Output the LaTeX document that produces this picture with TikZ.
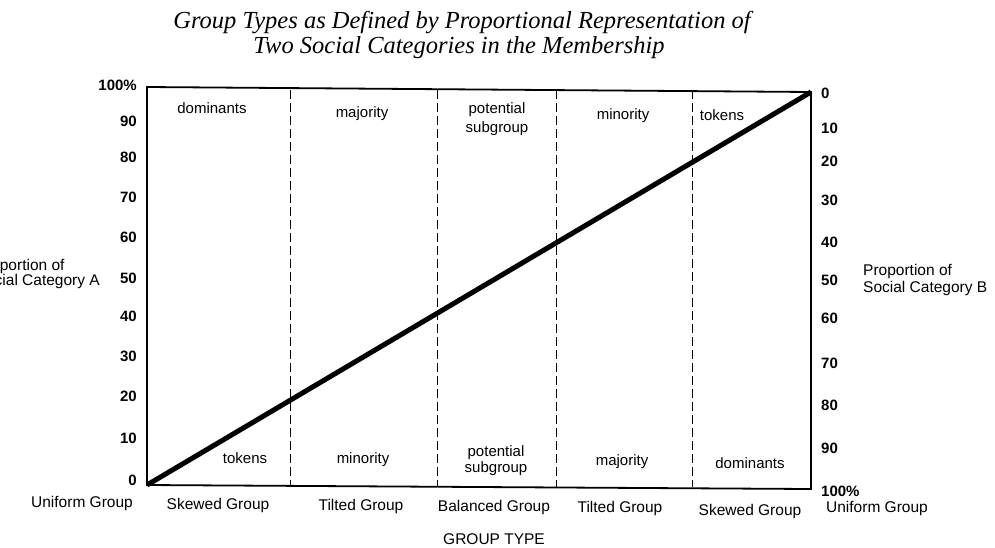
\documentclass[tikz,border=0pt]{standalone}
\usepackage{fontspec}
\setmainfont{Liberation Serif}
\setsansfont{Liberation Sans}
\begin{document}
\begin{tikzpicture}[x=1pt,y=-1pt,
  ttl/.style={font=\itshape\fontsize{24.5}{25}\selectfont, inner sep=0pt, anchor=base},
  lab/.style={font=\sffamily\fontsize{15.5}{17}\selectfont, inner sep=0pt, anchor=base},
  num/.style={font=\sffamily\bfseries\fontsize{15}{17}\selectfont, inner sep=0pt},
  reg/.style={font=\sffamily\fontsize{15}{16}\selectfont, inner sep=0pt, anchor=base},
  frame/.style={line width=1.8pt},
  divider/.style={line width=1pt, dash pattern=on 9pt off 4pt},
  diag/.style={line width=5pt}]
\useasboundingbox (0,0) rectangle (995,547);
% title
\node[ttl] (title1) at (462,28) {Group Types as Defined by Proportional Representation of};
\node[ttl] (title2) at (459,53) {Two Social Categories in the Membership};
% frame corners
\coordinate (tl) at (147,87);
\coordinate (tr) at (811,92);
\coordinate (br) at (811,489);
\coordinate (bl) at (147,485);
\draw[frame] (tl) -- (tr) -- (br) -- (bl) -- cycle;
% dividers
\foreach \n/\x in {a/290, b/437, c/556, d/692}{
  \coordinate (top\n) at (\x,90);
  \coordinate (bot\n) at (\x,487);
  \draw[divider] (top\n) -- (bot\n);
}
% diagonal
\draw[diag] (bl) -- (tr);
% left axis numbers
\foreach \k/\v/\y in {l10/100\%/85, l9/90/121, l8/80/157, l7/70/197, l6/60/237, l5/50/278, l4/40/316, l3/30/356, l2/20/396, l1/10/438, l0/0/480}{
  \node[num, anchor=east] (\k) at (137,\y) {\v};
}
% right axis numbers
\foreach \k/\v/\y in {r0/0/93, r1/10/128, r2/20/161, r3/30/200, r4/40/242, r5/50/280, r6/60/318, r7/70/363, r8/80/405, r9/90/448, r10/100\%/491}{
  \node[num, anchor=west] (\k) at (821,\y) {\v};
}
% axis titles
\node[font=\sffamily\fontsize{15.5}{14}\selectfont, inner sep=0pt, anchor=east, align=left] (axA) at (100,274) {Proportion of\\Social Category A};
\node[font=\sffamily\fontsize{15.5}{17}\selectfont, inner sep=0pt, anchor=west, align=left] (axB) at (863,280) {Proportion of\\Social Category B};
% bottom labels
\node[lab] (g1) at (82,507) {Uniform Group};
\node[lab] (g2) at (218,509) {Skewed Group};
\node[lab] (g3) at (361,510) {Tilted Group};
\node[lab] (g4) at (494,511) {Balanced Group};
\node[lab] (g5) at (620,512) {Tilted Group};
\node[lab] (g6) at (750,515) {Skewed Group};
\node[lab] (g7) at (877,512) {Uniform Group};
\node[lab] (gt) at (494,544) {GROUP TYPE};
% region labels top
\node[reg] (t1) at (212,113) {dominants};
\node[reg] (t2) at (362,117) {majority};
\node[reg] (t3) at (497,113) {potential};
\node[reg] (t3b) at (497,132) {subgroup};
\node[reg] (t4) at (623,119) {minority};
\node[reg] (t5) at (722,120) {tokens};
% region labels bottom
\node[reg] (b1) at (245,463) {tokens};
\node[reg] (b2) at (363,463) {minority};
\node[reg] (b3) at (496,456) {potential};
\node[reg] (b3b) at (496,472) {subgroup};
\node[reg] (b4) at (622,465) {majority};
\node[reg] (b5) at (750,468) {dominants};
\end{tikzpicture}
\end{document}
